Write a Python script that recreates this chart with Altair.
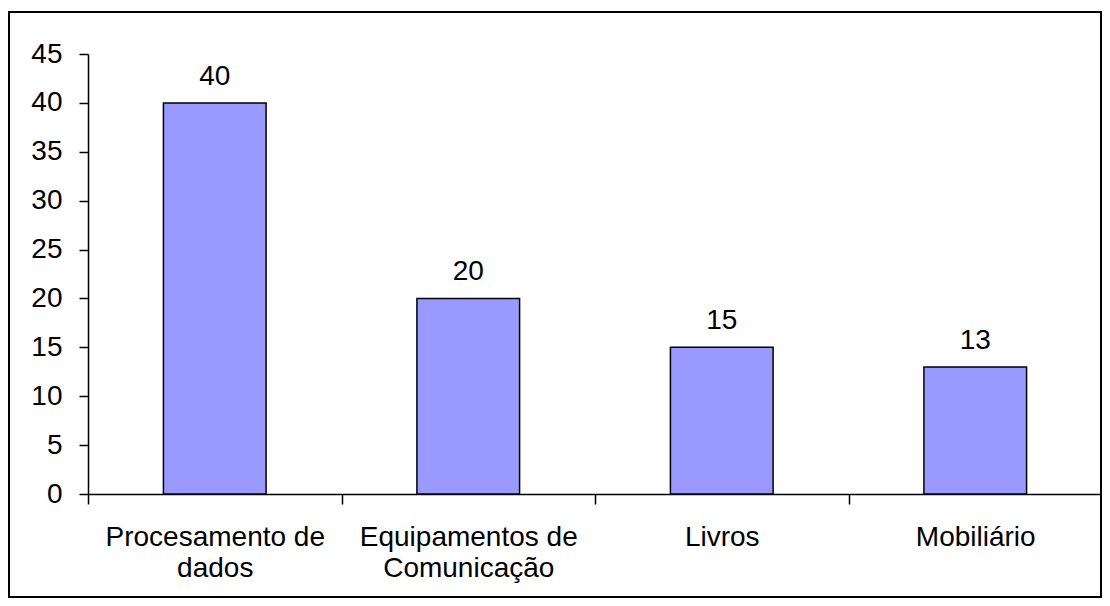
import altair as alt
import pandas as pd

categories = ["Procesamento de\ndados", "Equipamentos de\nComunicação", "Livros", "Mobiliário"]
values = [40, 20, 15, 13]

df = pd.DataFrame({"cat": categories, "val": values})

FONT = "Liberation Sans"
W, H = 1014, 440

x_enc = alt.X("cat:N", sort=categories, title=None,
              scale=alt.Scale(paddingInner=0, paddingOuter=0),
              axis=alt.Axis(labelAngle=0, labelExpr="split(datum.label, '\\n')",
                            labelFontSize=28, labelLineHeight=31, labelPadding=19, labelLimit=0,
                            tickBand="extent",
                            domainColor="black", labelColor="black", labelFont=FONT))
y_enc = alt.Y("val:Q", title=None,
              scale=alt.Scale(domain=[0, 45], nice=False),
              axis=alt.Axis(values=list(range(0, 50, 5)), grid=False,
                            labelPadding=17, labelFontSize=28, labelFont=FONT,
                            domainColor="black", labelColor="black"))

base = alt.Chart(df).encode(x=x_enc, y=y_enc)
bars = base.mark_bar(color="#9999FF", stroke="black", strokeWidth=1.5,
                     width=alt.RelativeBandSize(0.405))
labels = base.mark_text(baseline="bottom", dy=-12, fontSize=28, font=FONT, color="black").encode(
    text="val:Q")

frame = alt.Chart(pd.DataFrame({"a": [0]})).mark_rect(fill=None, stroke="black", strokeWidth=2).encode(
    x=alt.value(-79), x2=alt.value(1013), y=alt.value(-42), y2=alt.value(543))

chart = alt.layer(bars, labels, frame).properties(
    width=W, height=H,
    background="white",
    autosize=alt.AutoSizeParams(type="none"),
    padding={"left": 80, "top": 46, "right": 0, "bottom": 104},
).configure_view(stroke=None).configure_axisX(
    tickColor="#000000", tickWidth=1.5, tickSize=10, domainWidth=1.5
).configure_axisY(
    tickColor="#000000", tickWidth=1.5, tickSize=9, domainWidth=1.5
)

chart.save("out.html", embed_options={"renderer": "svg", "actions": False})
